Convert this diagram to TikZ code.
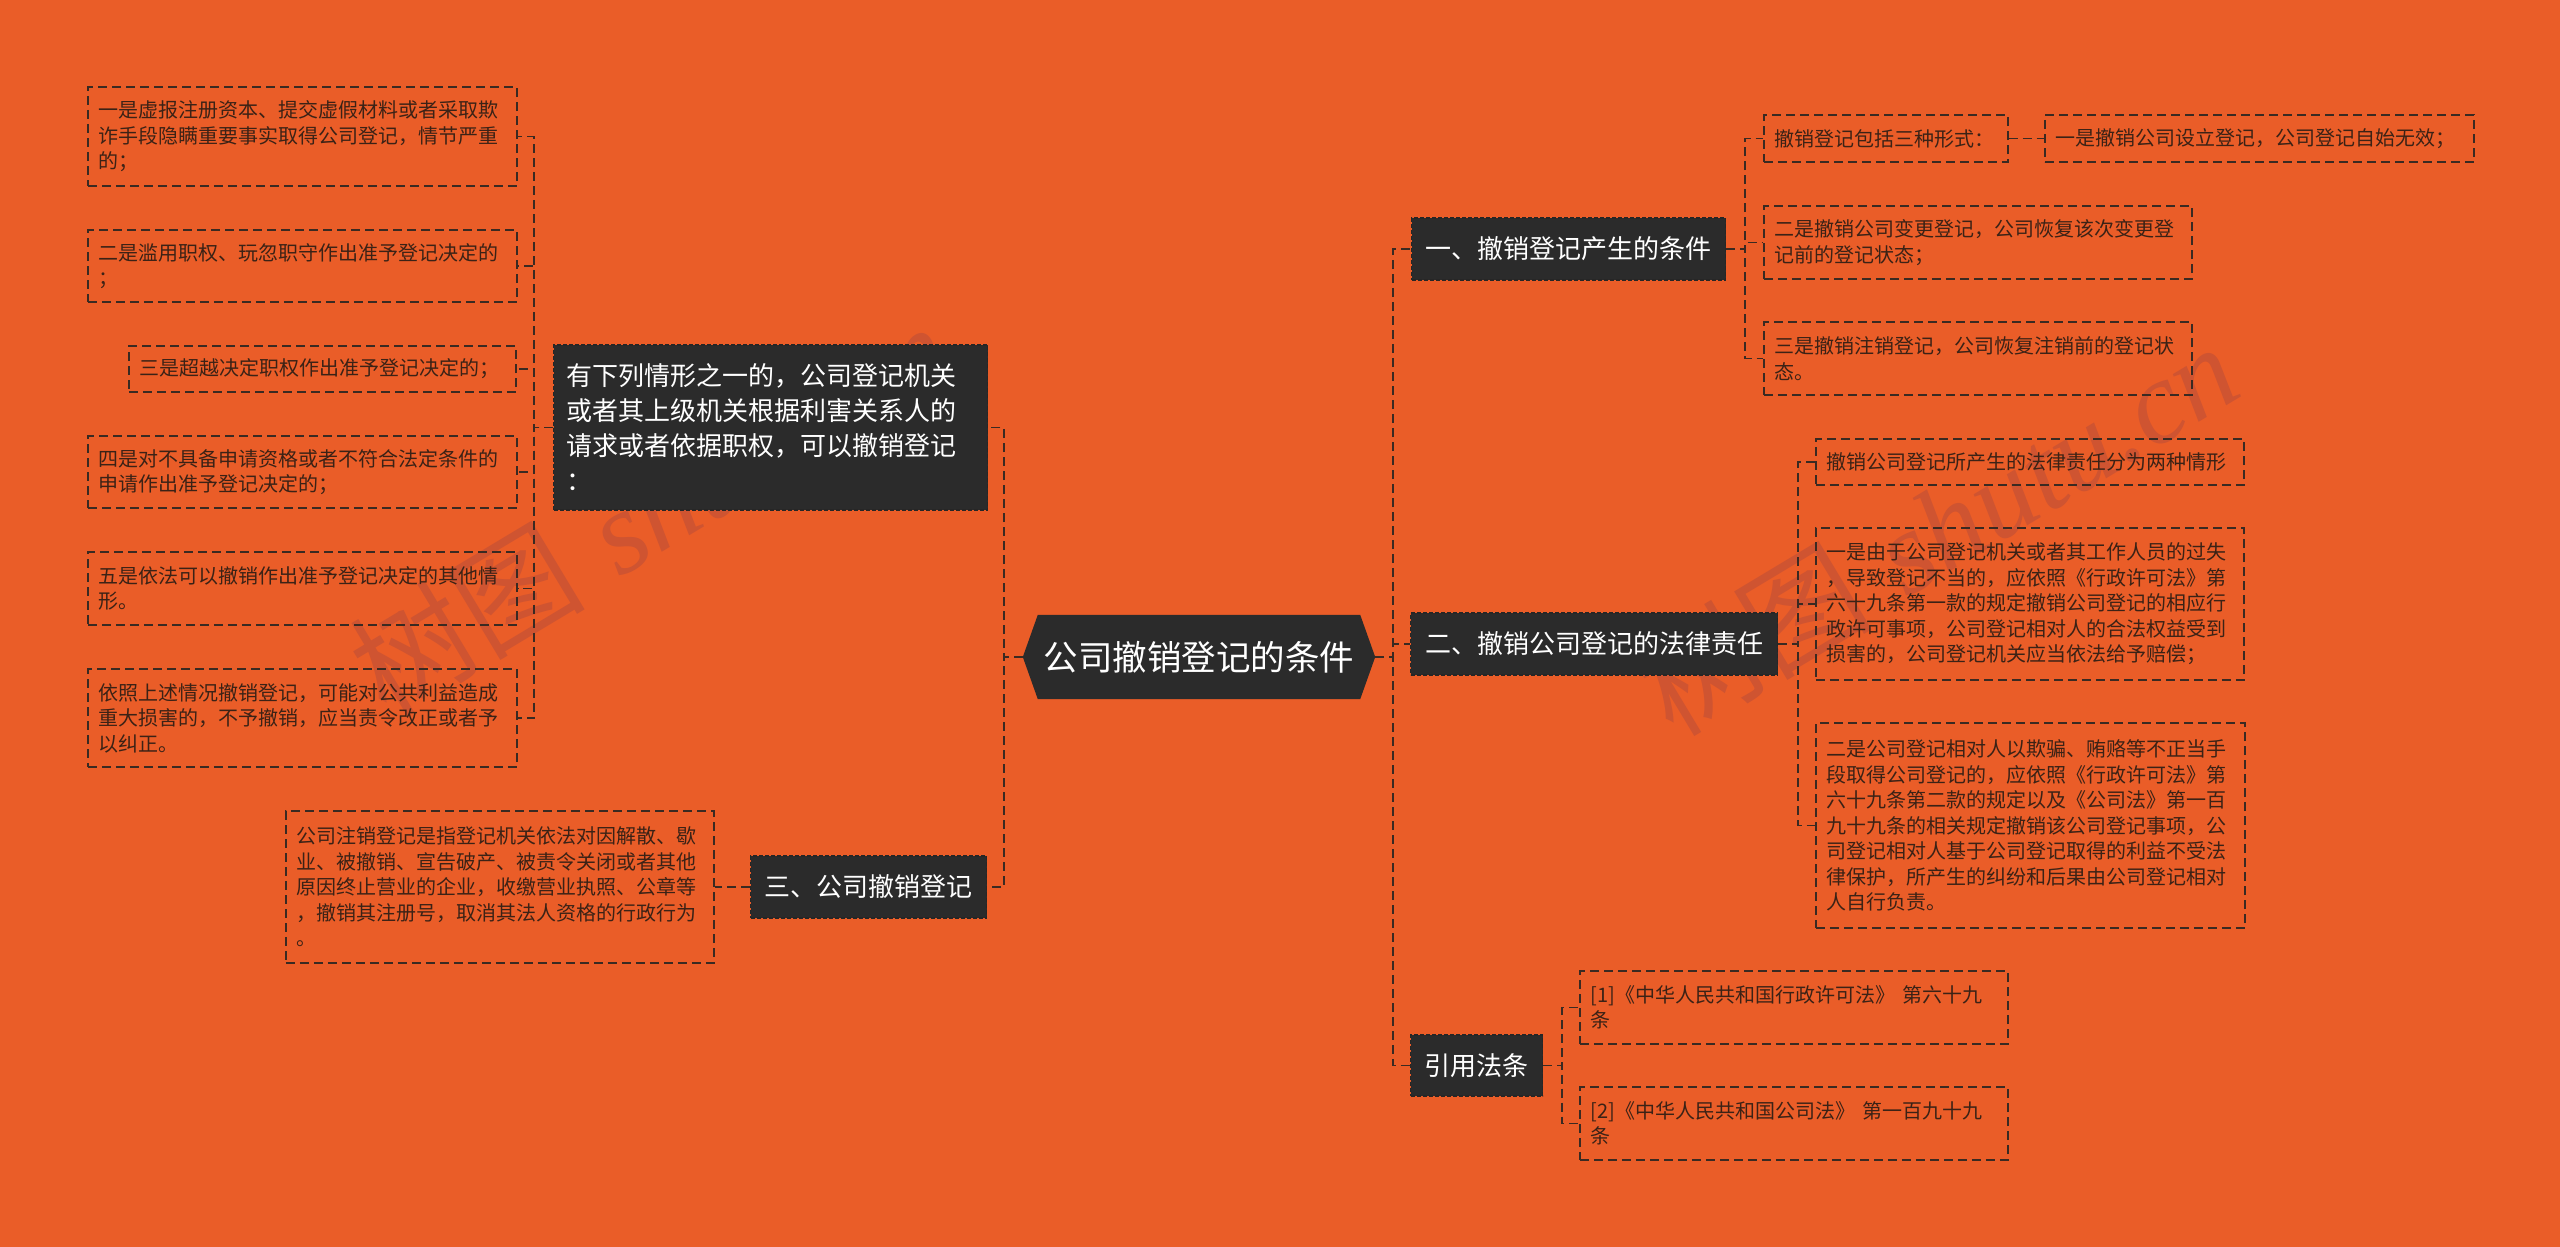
\documentclass[tikz,border=0pt]{standalone}
\usepackage{fontspec}
\newfontfamily\cjk{Noto Sans CJK SC}
\newfontfamily\wmserif{Liberation Serif}
\usetikzlibrary{backgrounds}
\definecolor{bg}{HTML}{EA5D28}
\definecolor{dk}{HTML}{2B2B2B}
\definecolor{ln}{HTML}{3A2A22}
\definecolor{tc}{HTML}{3B2216}
\definecolor{wmc}{HTML}{CF5431}
\begin{document}
\begin{tikzpicture}[x=1pt,y=-1pt,
  conn/.style={draw=ln, line width=1.6pt, dash pattern=on 9pt off 5pt},
  leaf/.style={draw=ln, line width=1.6pt, dash pattern=on 9pt off 5pt, text=tc,
    font=\cjk\fontsize{20}{25.5}\selectfont, align=left, inner xsep=11pt, inner ysep=0pt, anchor=west},
  dark/.style={fill=dk, draw=black!85, line width=1.2pt, dash pattern=on 4pt off 2pt, text=white,
    font=\cjk\fontsize{26}{35}\selectfont, inner sep=0pt, minimum height=62pt, anchor=west},
  wm/.style={rotate=31, text=wmc, inner sep=0pt, font=\fontsize{118}{120}\selectfont}]
\useasboundingbox (0,0) rectangle (2560,1247);

% centre
\node (c) [text=white, font=\cjk\fontsize{34.5}{40}\selectfont, minimum width=322pt, minimum height=84pt, inner sep=0pt] at (1199,657) {公司撤销登记的条件};
\coordinate (cR) at ([xshift=15pt]c.east);
\coordinate (cL) at ([xshift=-15pt]c.west);

% left side
\node (L1) [dark, align=left, inner xsep=13pt, text width=408pt, minimum height=165pt] at (553,427.5) {有下列情形之一的，公司登记机关\\或者其上级机关根据利害关系人的\\请求或者依据职权，可以撤销登记\\：};
\node (L2) [dark, minimum width=236pt] at (750,887) {三、公司撤销登记};

\node (d1) [leaf, text width=407pt, minimum height=99pt] at (87,136.5) {一是虚报注册资本、提交虚假材料或者采取欺\\诈手段隐瞒重要事实取得公司登记，情节严重\\的；};
\node (d2) [leaf, text width=407pt, minimum height=72pt] at (87,266) {二是滥用职权、玩忽职守作出准予登记决定的\\；};
\node (d3) [leaf, text width=365pt, minimum height=46pt] at (128,369) {三是超越决定职权作出准予登记决定的；};
\node (d4) [leaf, text width=407pt, minimum height=72pt] at (87,472) {四是对不具备申请资格或者不符合法定条件的\\申请作出准予登记决定的；};
\node (d5) [leaf, text width=407pt, minimum height=73pt] at (87,588.5) {五是依法可以撤销作出准予登记决定的其他情\\形。};
\node (d6) [leaf, text width=407pt, minimum height=98pt] at (87,718) {依照上述情况撤销登记，可能对公共利益造成\\重大损害的，不予撤销，应当责令改正或者予\\以纠正。};
\node (e1) [leaf, text width=406pt, minimum height=152pt] at (285,887) {公司注销登记是指登记机关依法对因解散、歇\\业、被撤销、宣告破产、被责令关闭或者其他\\原因终止营业的企业，收缴营业执照、公章等\\，撤销其注册号，取消其法人资格的行政行为\\。};

% right side
\node (n1) [dark, minimum width=314pt] at (1411,249) {一、撤销登记产生的条件};
\node (n2) [dark, minimum width=367pt] at (1410,644) {二、撤销公司登记的法律责任};
\node (n3) [dark, minimum width=132pt, minimum height=61pt] at (1410,1065.5) {引用法条};

\node (a1) [leaf, text width=222pt, minimum height=47pt] at (1763,138.5) {撤销登记包括三种形式：};
\node (a1b) [leaf, text width=407pt, minimum height=47pt] at (2044,138.5) {一是撤销公司设立登记，公司登记自始无效；};
\node (a2) [leaf, text width=406pt, minimum height=73pt] at (1763,242.5) {二是撤销公司变更登记，公司恢复该次变更登\\记前的登记状态；};
\node (a3) [leaf, text width=406pt, minimum height=73pt] at (1763,358.5) {三是撤销注销登记，公司恢复注销前的登记状\\态。};

\node (b1) [leaf, text width=406pt, minimum height=46pt] at (1815,462) {撤销公司登记所产生的法律责任分为两种情形};
\node (b2) [leaf, text width=406pt, minimum height=152pt] at (1815,604) {一是由于公司登记机关或者其工作人员的过失\\，导致登记不当的，应依照《行政许可法》第\\六十九条第一款的规定撤销公司登记的相应行\\政许可事项，公司登记相对人的合法权益受到\\损害的，公司登记机关应当依法给予赔偿；};
\node (b3) [leaf, text width=407pt, minimum height=205pt] at (1815,825.5) {二是公司登记相对人以欺骗、贿赂等不正当手\\段取得公司登记的，应依照《行政许可法》第\\六十九条第二款的规定以及《公司法》第一百\\九十九条的相关规定撤销该公司登记事项，公\\司登记相对人基于公司登记取得的利益不受法\\律保护，所产生的纠纷和后果由公司登记相对\\人自行负责。};

\node (c1) [leaf, text width=406pt, minimum height=73pt] at (1579,1007.5) {[1]《中华人民共和国行政许可法》 第六十九\\条};
\node (c2) [leaf, text width=406pt, minimum height=73pt] at (1579,1123.5) {[2]《中华人民共和国公司法》 第一百九十九\\条};

% connectors
\foreach \n in {n1,n2,n3} \draw[conn] (cR) -- ++(18,0) |- (\n.west);
\foreach \n in {L1,L2} \draw[conn] (cL) -- ++(-19,0) |- (\n.east);
\foreach \n in {d1,d2,d3,d4,d5,d6} \draw[conn] (L1.west) -- ++(-19,0) |- (\n.east);
\draw[conn] (L2.west) -- (e1.east);
\foreach \n in {a1,a2,a3} \draw[conn] (n1.east) -- ++(19,0) |- (\n.west);
\draw[conn] (a1.east) -- (a1b.west);
\foreach \n in {b1,b2,b3} \draw[conn] (n2.east) -- ++(20,0) |- (\n.west);
\foreach \n in {c1,c2} \draw[conn] (n3.east) -- ++(19,0) |- (\n.west);

% background, watermarks and hexagon
\begin{scope}[on background layer]
\fill[bg] (0,0) rectangle (2560,1247);
\node (w1) [wm] at (650,508) {{\cjk 树图} {\wmserif\itshape shutu.cn}};
\node (w2) [wm] at (1937,528) {{\cjk 树图} {\wmserif\itshape shutu.cn}};
\fill[dk] (c.north west) -- (c.north east) -- (cR) -- (c.south east) -- (c.south west) -- (cL) -- cycle;
\end{scope}
\end{tikzpicture}
\end{document}
